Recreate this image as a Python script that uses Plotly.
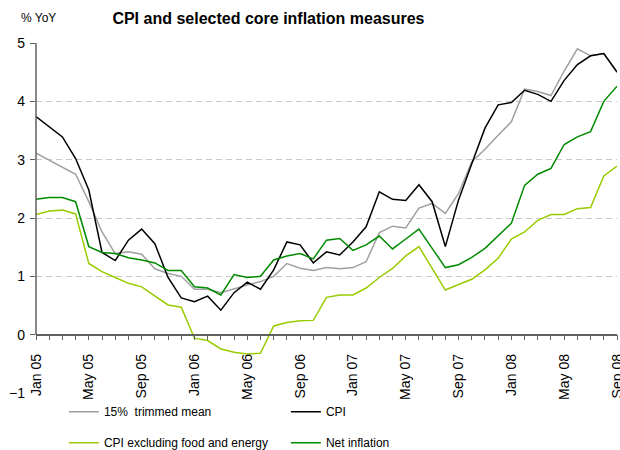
import plotly.graph_objects as go

months = []
for yy in ["05", "06", "07", "08"]:
    for mm in ["Jan", "Feb", "Mar", "Apr", "May", "Jun", "Jul", "Aug", "Sep", "Oct", "Nov", "Dec"]:
        months.append(f"{mm} {yy}")
months = months[:45]  # Jan 05 .. Sep 08

trimmed_mean = [3.11, 2.99, 2.88, 2.75, 2.28, 1.76, 1.39, 1.42, 1.38, 1.13, 1.05, 1.0,
                0.78, 0.78, 0.72, 0.79, 0.85, 0.91, 1.0, 1.22, 1.14, 1.10, 1.15, 1.13,
                1.15, 1.25, 1.75, 1.86, 1.83, 2.17, 2.25, 2.08, 2.42, 2.96, 3.18, 3.42,
                3.65, 4.21, 4.17, 4.10, 4.52, 4.90, 4.78, 4.82, 4.50]
cpi = [3.74, 3.57, 3.39, 3.02, 2.48, 1.41, 1.27, 1.62, 1.81, 1.56, 0.98, 0.63,
       0.565, 0.66, 0.42, 0.72, 0.90, 0.78, 1.11, 1.59, 1.54, 1.23, 1.42, 1.365,
       1.59, 1.85, 2.45, 2.32, 2.30, 2.57, 2.28, 1.51, 2.31, 2.93, 3.54, 3.94,
       3.98, 4.19, 4.12, 4.0, 4.36, 4.63, 4.78, 4.82, 4.50]
cpi_ex_food_energy = [2.06, 2.12, 2.135, 2.07, 1.22, 1.08, 0.98, 0.88, 0.82, 0.66, 0.51, 0.47,
                      -0.06, -0.10, -0.245, -0.30, -0.33, -0.32, 0.15, 0.21, 0.24, 0.245, 0.64, 0.68,
                      0.68, 0.80, 0.98, 1.135, 1.35, 1.51, 1.14, 0.765, 0.86, 0.95, 1.11, 1.31,
                      1.64, 1.76, 1.96, 2.06, 2.06, 2.16, 2.18, 2.72, 2.89]
net_inflation = [2.32, 2.35, 2.35, 2.28, 1.51, 1.41, 1.39, 1.32, 1.28, 1.23, 1.10, 1.10,
                 0.82, 0.80, 0.68, 1.03, 0.98, 1.0, 1.28, 1.35, 1.39, 1.30, 1.62, 1.65,
                 1.445, 1.54, 1.69, 1.47, 1.64, 1.81, 1.48, 1.15, 1.20, 1.325, 1.48, 1.70,
                 1.91, 2.56, 2.75, 2.85, 3.26, 3.39, 3.48, 4.0, 4.26]

y_ticks = [-1, 0, 1, 2, 3, 4, 5]
y_axis_ticks = [0, 1, 2, 3, 4, 5]

x = list(range(len(months)))
tick_idx = x[::4]
tick_text = [months[i] for i in tick_idx]

FONT = "Liberation Sans, Arial, sans-serif"
AXC = "#606060"

fig = go.Figure()
fig.add_trace(go.Scatter(x=x, y=trimmed_mean, mode="lines", name="15%  trimmed mean",
                         line=dict(color="#a0a0a0", width=1.5), legend="legend"))
fig.add_trace(go.Scatter(x=x, y=cpi, mode="lines", name="CPI",
                         line=dict(color="#000000", width=1.5), legend="legend"))
fig.add_trace(go.Scatter(x=x, y=cpi_ex_food_energy, mode="lines", name="CPI excluding food and energy",
                         line=dict(color="#99cc00", width=1.5), legend="legend2"))
fig.add_trace(go.Scatter(x=x, y=net_inflation, mode="lines", name="Net inflation",
                         line=dict(color="#008a00", width=1.5), legend="legend2"))
# invisible trace to activate the overlay axis carrying the y tick marks
fig.add_trace(go.Scatter(x=[x[0]], y=[y_axis_ticks[0]], mode="markers", marker=dict(opacity=0),
                         showlegend=False, hoverinfo="skip", yaxis="y2"))

fig.update_layout(
    width=620, height=450,
    margin=dict(l=36, r=3, t=43, b=57, autoexpand=False),
    paper_bgcolor="white", plot_bgcolor="white",
    font=dict(family=FONT, size=12, color="black"),
    title=dict(text="<b>CPI and selected core inflation measures</b>", x=0.433, xanchor="center",
               y=0.96, yanchor="middle", font=dict(size=16, family=FONT, color="black")),
    legend=dict(orientation="h", x=0.048, xanchor="left", yref="container", y=0.1171, yanchor="top",
                entrywidth=177, entrywidthmode="pixels", bgcolor="rgba(0,0,0,0)",
                font=dict(size=12), traceorder="normal"),
    legend2=dict(orientation="h", x=0.048, xanchor="left", yref="container", y=0.0482, yanchor="top",
                 entrywidth=177, entrywidthmode="pixels", bgcolor="rgba(0,0,0,0)",
                 font=dict(size=12), traceorder="normal"),
    xaxis=dict(range=[0, 44], tickmode="array", tickvals=tick_idx, ticktext=tick_text,
               tickangle=-90, anchor="free", position=1/6, automargin=False,
               ticklabeloverflow="allow",
               showline=True, linecolor=AXC, linewidth=1.5,
               ticks="outside", ticklen=5, tickcolor=AXC, tickwidth=1,
               ticklabelstandoff=8,
               minor=dict(dtick=1, tick0=0, ticks="outside", ticklen=5, tickcolor=AXC, showgrid=False),
               showgrid=False, zeroline=False, tickfont=dict(size=14)),
    yaxis=dict(range=[-1, 5], tickmode="array", tickvals=y_ticks, showline=False,
               ticks="", automargin=False, ticklabelstandoff=10,
               showgrid=True, gridcolor="#c8c8c8", griddash="6px,4px", gridwidth=1,
               zeroline=False, tickfont=dict(size=14)),
    yaxis2=dict(range=[-1, 5], overlaying="y", side="left", tickmode="array", tickvals=y_axis_ticks,
                showticklabels=False, ticks="outside", ticklen=5, tickcolor=AXC,
                showgrid=False, zeroline=False, showline=False, automargin=False),
    shapes=[dict(type="line", xref="paper", yref="y", x0=0, x1=0, y0=y_axis_ticks[0], y1=y_axis_ticks[-1],
                 line=dict(color=AXC, width=1.5))],
    annotations=[dict(text="% YoY", xref="paper", yref="paper", x=-0.029, y=1.071,
                      xanchor="left", yanchor="middle", showarrow=False,
                      font=dict(size=12, family=FONT))],
)

fig.write_html("out.html", config={"displayModeBar": False},
               post_script="document.body.style.margin='0';document.body.style.overflow='hidden';")
